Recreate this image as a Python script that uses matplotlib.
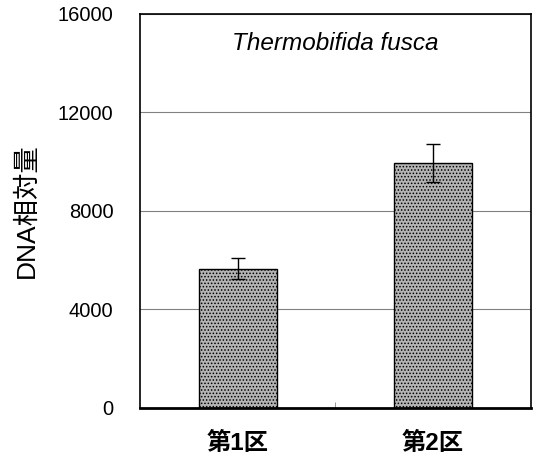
import numpy as np
import matplotlib
matplotlib.use("Agg")
import matplotlib.pyplot as plt

plt.rcParams['font.family'] = ['Liberation Sans', 'Noto Sans CJK JP', 'DejaVu Sans']
plt.rcParams['hatch.linewidth'] = 0.7

# data
categories = ['第1区', '第2区']
values = [5650, 9950]
errors = [420, 780]
yticks = [0, 4000, 8000, 12000, 16000]

fig = plt.figure(figsize=(5.34, 4.63), dpi=100)
ax = fig.add_axes([0.262, 0.119, 0.732, 0.851])

x = np.arange(len(categories))
ax.bar(x, values, width=0.4, color='#b4b4b4', edgecolor='black', linewidth=1.0,
       hatch='.....', zorder=2)
ax.errorbar(x, values, yerr=errors, fmt='none', ecolor='black', elinewidth=1.0,
            capsize=5, capthick=1.0, zorder=3)

ax.set_xlim(-0.5, 1.5)
ax.set_ylim(0, 16000)
ax.set_yticks(yticks)
ax.set_yticklabels([str(v) for v in yticks], fontsize=14.5)
ax.yaxis.grid(True, color='#808080', linewidth=0.8, zorder=0)
ax.set_axisbelow(True)
ax.tick_params(axis='y', length=0, pad=19)

ax.set_xticks(x)
ax.set_xticklabels(categories, fontsize=17.5, fontweight='bold')
ax.set_xticks([0.5], minor=True)
ax.tick_params(axis='x', which='major', length=0, pad=17)
ax.tick_params(axis='x', which='minor', length=4, direction='in', color='#888888')

for s in ax.spines.values():
    s.set_linewidth(1.2)
ax.spines['bottom'].set_linewidth(2.0)

ax.set_ylabel('DNA相対量', fontsize=19, labelpad=14)
ax.text(0.5, 0.925, 'Thermobifida fusca', transform=ax.transAxes,
        ha='center', va='center', fontsize=17.5, style='italic')

fig.savefig('out.png', dpi=100)
